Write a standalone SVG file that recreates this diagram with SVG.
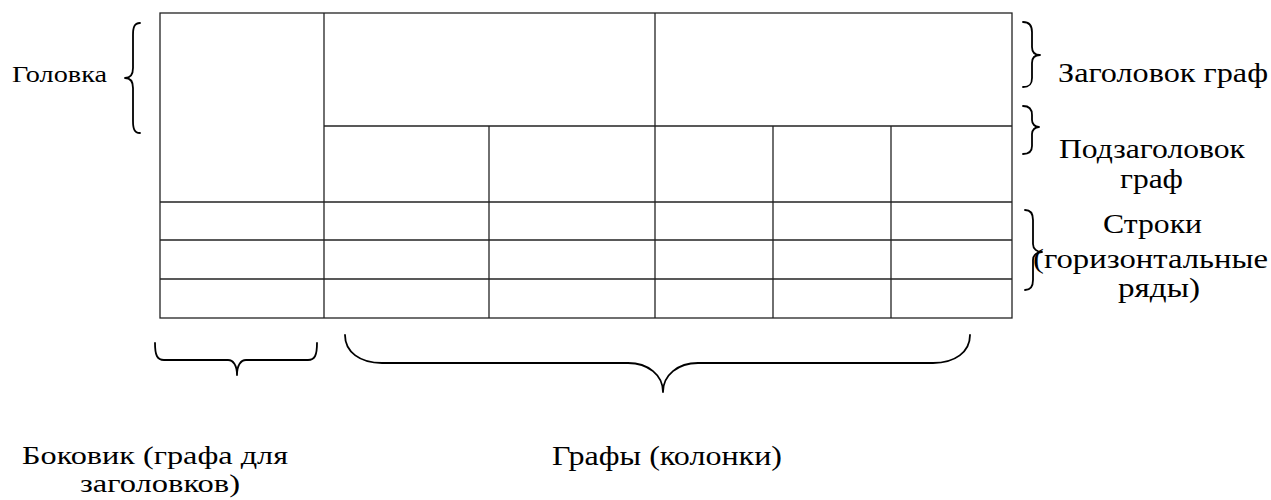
<svg xmlns="http://www.w3.org/2000/svg" width="1271" height="500" viewBox="0 0 1271 500">
<style>
text{font-family:'Liberation Serif','DejaVu Serif',serif;font-size:27px;fill:#000}
.s{font-size:22.5px}
.b{font-size:25px}
.grid{stroke:#222;stroke-width:1.3;fill:none}
.br{stroke:#000;stroke-width:1.8;fill:none;stroke-linecap:round;stroke-linejoin:round}
</style>
<rect width="1271" height="500" fill="#fff"/>
<g id="table" class="grid">
<rect x="160" y="13" width="852" height="305"/>
<line x1="324" y1="13" x2="324" y2="318"/>
<line x1="655" y1="13" x2="655" y2="318"/>
<line x1="489" y1="126" x2="489" y2="318"/>
<line x1="773" y1="126" x2="773" y2="318"/>
<line x1="891" y1="126" x2="891" y2="318"/>
<line x1="324" y1="126" x2="1012" y2="126"/>
<line x1="160" y1="202" x2="1012" y2="202"/>
<line x1="160" y1="240" x2="1012" y2="240"/>
<line x1="160" y1="279" x2="1012" y2="279"/>
</g>
<g id="connectors">
<path class="br" d="M140,23 C134,23 133,28 133,35 L133,68 C133,75 130,78 125,78 C130,78 133,81 133,88 L133,121 C133,128 134,133 140,133"/>
<path class="br" d="M1023,22 C1030,22 1032,26 1032,32 L1032,47 C1032,52 1035,55 1040,55 C1035,55 1032,58 1032,63 L1032,78 C1032,84 1030,87 1023,87"/>
<path class="br" d="M1023,106 C1030,106 1032,110 1032,115 L1032,120 C1032,124 1035,127 1039,127 C1035,127 1032,130 1032,134 L1032,146 C1032,151 1030,154 1023,154"/>
<path class="br" d="M1025,210 C1031,210 1033,214 1033,220 L1033,244 C1033,249 1037,252 1042,252 C1037,252 1033,255 1033,260 L1033,280 C1033,286 1031,290 1025,290"/>
<path class="br" d="M155,343 C155,355 157,360 164,360 L228,360 C233,360 237,365 237,375 C237,365 241,360 246,360 L308,360 C315,360 317,355 317,343"/>
<path class="br" d="M345,335 C345,352 360,363 382,363 L628,363 C648,363 663,375 663,392 C663,375 678,363 698,363 L933,363 C955,363 970,352 970,335"/>
</g>
<g id="label-golovka"><text class="s" x="12" y="82" textLength="95" lengthAdjust="spacingAndGlyphs">Головка</text></g>
<g id="label-zagolovok"><text x="1058" y="82" textLength="210" lengthAdjust="spacingAndGlyphs">Заголовок граф</text></g>
<g id="label-podzagolovok"><text x="1059" y="158" textLength="186" lengthAdjust="spacingAndGlyphs">Подзаголовок</text><text x="1120" y="188" textLength="63" lengthAdjust="spacingAndGlyphs">граф</text></g>
<g id="label-stroki"><text x="1103" y="233" textLength="99" lengthAdjust="spacingAndGlyphs">Строки</text><text x="1033" y="268" textLength="235" lengthAdjust="spacingAndGlyphs">(горизонтальные</text><text x="1118" y="297" textLength="82" lengthAdjust="spacingAndGlyphs">ряды)</text></g>
<g id="label-bokovik"><text class="b" x="22" y="464" textLength="266" lengthAdjust="spacingAndGlyphs">Боковик (графа для</text><text class="b" x="80" y="492" textLength="160" lengthAdjust="spacingAndGlyphs">заголовков)</text></g>
<g id="label-grafy"><text x="552" y="465" textLength="230" lengthAdjust="spacingAndGlyphs">Графы (колонки)</text></g>
</svg>
